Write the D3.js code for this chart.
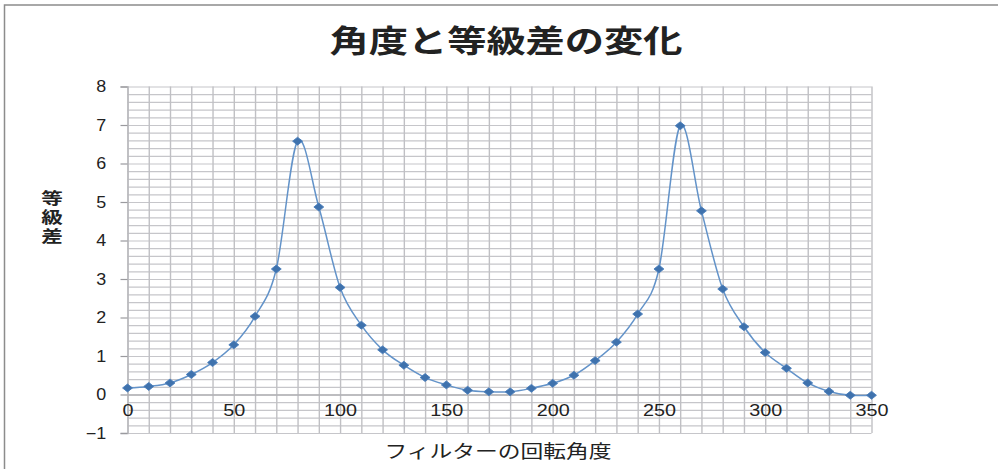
<!DOCTYPE html>
<html>
<head>
<meta charset="utf-8">
<script src="https://cdn.jsdelivr.net/npm/d3@7"></script>
<style>
  body { margin: 0; background: #fff; }
  svg { display: block; }
  text { font-family: "Liberation Sans", Arial, "Noto Sans CJK JP", sans-serif; fill: #222; }
  .jp { font-family: "Noto Sans CJK JP", sans-serif; }
</style>
</head>
<body>
<div id="chart"></div>
<script>
// Chart data
var angles = [0, 10, 20, 30, 40, 50, 60, 70, 80, 90, 100, 110, 120, 130, 140, 150, 160, 170,
  180, 190, 200, 210, 220, 230, 240, 250, 260, 270, 280, 290, 300, 310, 320, 330, 340, 350];
var gradeDiff = [0.17, 0.21, 0.30, 0.52, 0.83, 1.29, 2.03, 3.26, 6.58, 4.87, 2.78, 1.80, 1.16, 0.76, 0.44, 0.25, 0.11, 0.07,
  0.07, 0.16, 0.29, 0.50, 0.88, 1.36, 2.09, 3.26, 6.98, 4.77, 2.74, 1.76, 1.09, 0.68, 0.30, 0.08, -0.02, -0.02];
var xTicks = [0, 50, 100, 150, 200, 250, 300, 350];
var yTicks = [-1, 0, 1, 2, 3, 4, 5, 6, 7, 8];

var title = "角度と等級差の変化";
var xTitle = "フィルターの回転角度";
var yTitle = "等級差";

var svgWidth = 998;
var svgHeight = 469;

var Margin = { top: 86.5, right: 126.5, bottom: 36, left: 127.5 };
var width = svgWidth - Margin.left - Margin.right;
var height = svgHeight - Margin.top - Margin.bottom;

var svg = d3.select("#chart")
  .append("svg")
  .attr("width", svgWidth)
  .attr("height", svgHeight);

// outer chart frame
svg.append("rect")
  .attr("x", 4.5).attr("y", 5)
  .attr("width", 1010).attr("height", 480)
  .attr("fill", "#fff")
  .attr("stroke", "#8c8c8c")
  .attr("stroke-width", 1.5);

var chartGroup = svg.append("g")
  .attr("transform", `translate(${Margin.left}, ${Margin.top})`);

var xScale = d3.scaleLinear().domain([0, 350]).range([0, width]);
var yScale = d3.scaleLinear().domain([-1, 8]).range([height, 0]);

// minor horizontal gridlines every 0.2
chartGroup.append("g")
  .call(d3.axisLeft(yScale).tickValues(d3.range(-1, 8.001, 0.2)).tickSize(-width).tickFormat(""))
  .call(g => g.select(".domain").remove())
  .selectAll("line")
  .attr("stroke", "#c6c6ca")
  .attr("stroke-width", 1.2);

// vertical gridlines every 10
chartGroup.append("g")
  .call(d3.axisBottom(xScale).tickValues(angles).tickSize(height).tickFormat(""))
  .call(g => g.select(".domain").remove())
  .selectAll("line")
  .attr("stroke", "#c0c0c4")
  .attr("stroke-width", 1.4);

// left axis with ticks
var leftAxis = chartGroup.append("g")
  .call(d3.axisLeft(yScale).tickValues(yTicks).tickSize(7).tickPadding(12).tickFormat(d3.format("d")));
leftAxis.select(".domain").attr("stroke", "#b8b8bc").attr("stroke-width", 1.4);
leftAxis.selectAll("line").attr("stroke", "#9a9a9e").attr("stroke-width", 1.2);
leftAxis.selectAll("text")
  .attr("font-size", 16)
  .attr("font-family", "Liberation Sans, Arial, sans-serif")
  .attr("fill", "#222")
  .attr("transform", "scale(1.12,1)");

// bottom axis crossing at zero
var bottomAxis = chartGroup.append("g")
  .attr("transform", `translate(0, ${yScale(0)})`)
  .call(d3.axisBottom(xScale).tickValues(xTicks).tickSize(0).tickPadding(10));
bottomAxis.select(".domain").attr("stroke", "#b0b0b4").attr("stroke-width", 1.4);
bottomAxis.selectAll("text")
  .attr("font-size", 16)
  .attr("font-family", "Liberation Sans, Arial, sans-serif")
  .attr("fill", "#222")
  .attr("textLength", d => String(d).length * 11)
  .attr("lengthAdjust", "spacingAndGlyphs");

// smoothed line
var line = d3.line()
  .x((d, i) => xScale(angles[i]))
  .y(d => yScale(d))
  .curve(d3.curveCardinal.tension(0));

chartGroup.append("path")
  .datum(gradeDiff)
  .attr("d", line)
  .attr("fill", "none")
  .attr("stroke", "#6393c9")
  .attr("stroke-width", 1.5);

// diamond markers
chartGroup.selectAll(".pt")
  .data(gradeDiff)
  .enter()
  .append("path")
  .attr("class", "pt")
  .attr("d", d3.symbol().type(d3.symbolDiamond2).size(40))
  .attr("transform", (d, i) => `translate(${xScale(angles[i])}, ${yScale(d)}) scale(1.25,1)`)
  .attr("fill", "#3f72ad")
  .attr("stroke", "#4a7ebb")
  .attr("stroke-width", 0.8);

// title
svg.append("text")
  .attr("class", "jp")
  .attr("x", 506)
  .attr("y", 52)
  .attr("text-anchor", "middle")
  .attr("font-size", 31)
  .attr("font-weight", "bold")
  .attr("textLength", 353)
  .attr("lengthAdjust", "spacingAndGlyphs")
  .text(title);

// x axis title
svg.append("text")
  .attr("class", "jp")
  .attr("x", 498)
  .attr("y", 458)
  .attr("text-anchor", "middle")
  .attr("font-size", 18)
  .attr("textLength", 227)
  .attr("lengthAdjust", "spacingAndGlyphs")
  .text(xTitle);

// y axis title, written vertically
svg.append("text")
  .attr("class", "jp")
  .attr("transform", "translate(52, 190) scale(1.35,1)")
  .attr("text-anchor", "start")
  .style("writing-mode", "vertical-rl")
  .style("letter-spacing", "3px")
  .attr("font-size", 16)
  .attr("font-weight", "bold")
  .text(yTitle);
</script>
</body>
</html>
